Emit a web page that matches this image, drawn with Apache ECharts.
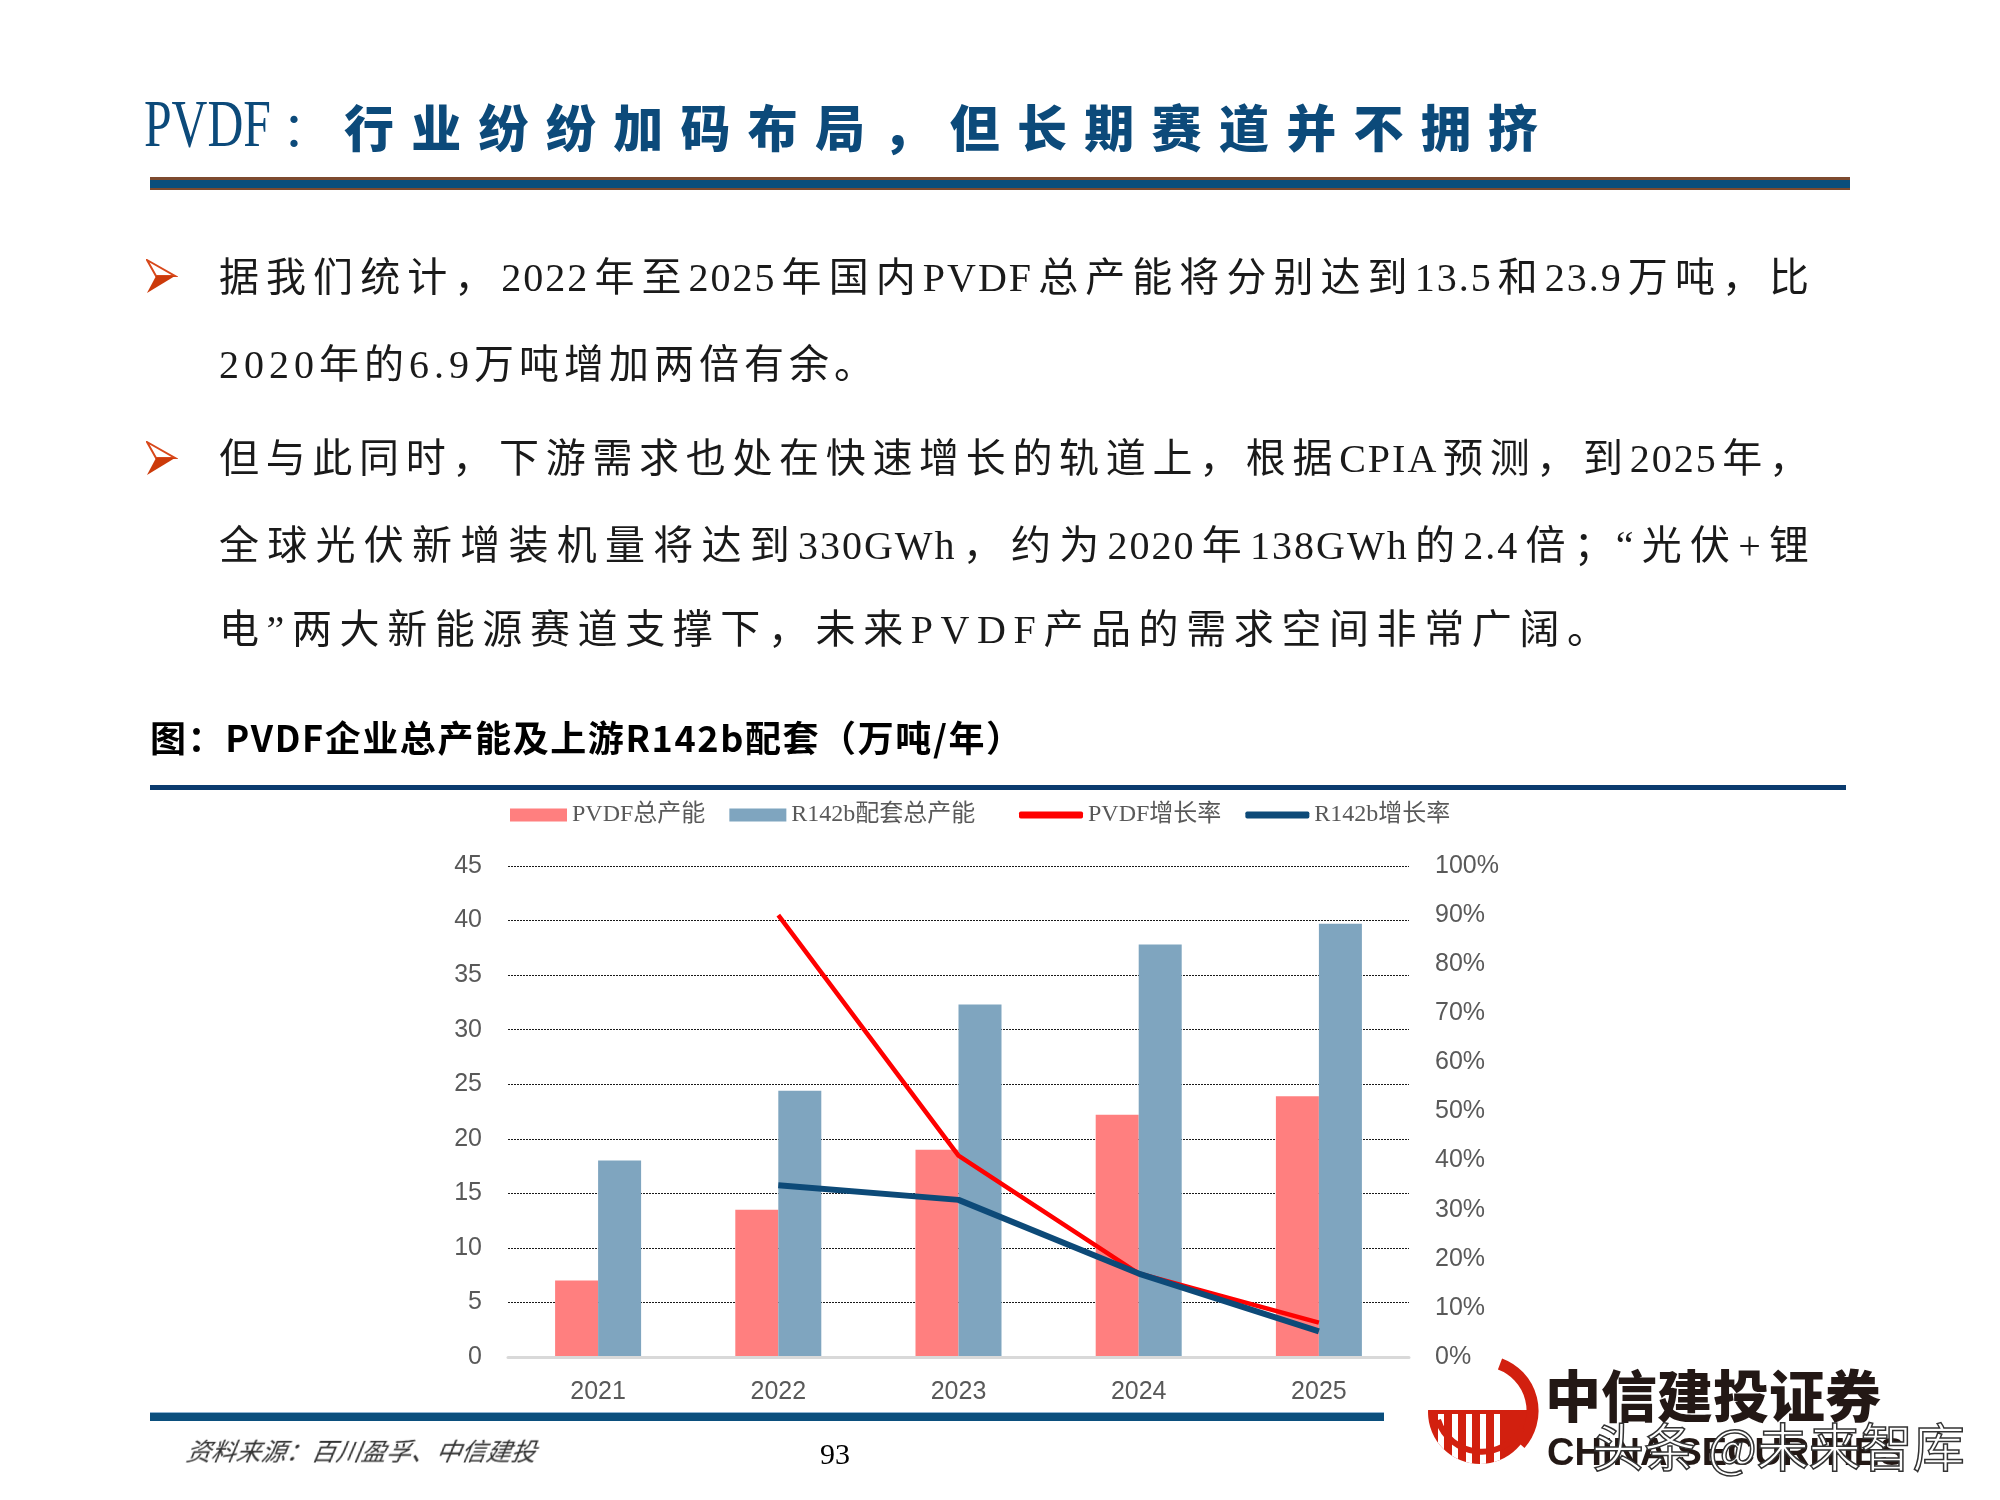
<!DOCTYPE html>
<html>
<head>
<meta charset="utf-8">
<script src="https://cdn.jsdelivr.net/npm/echarts@6/dist/echarts.min.js"></script>
<style>
  html, body { margin:0; padding:0; background:#fff; }
  body { width:2000px; height:1500px; position:relative; overflow:hidden; }
  #chart { position:absolute; left:0; top:0; width:2000px; height:1500px; }
  .abs { position:absolute; white-space:nowrap; }
  .body-line { position:absolute; left:219px; font-family:"Liberation Serif","Noto Sans CJK SC",serif; font-size:40px; line-height:48px; color:#1a1a1a; }
  .full { width:1592px; text-align:justify; text-align-last:justify; letter-spacing:2px; }
  .rag { letter-spacing:5px; }
</style>
</head>
<body>
<div id="chart"></div>

<!-- page title -->
<div class="abs" style="left:144px;top:83px;font-family:'Liberation Serif',serif;font-size:68px;line-height:80px;color:#0c4a7a;transform:scaleX(0.73);transform-origin:left center;">PVDF</div>
<div class="abs" style="left:282px;top:97px;font-family:'Noto Sans CJK SC';font-size:48px;line-height:56px;color:#0c4a7a;">：</div>
<div class="abs" style="left:344px;top:97px;font-family:'Noto Sans CJK SC';font-weight:900;font-size:50px;line-height:56px;letter-spacing:17.3px;color:#0c4a7a;">行业纷纷加码布局，但长期赛道并不拥挤</div>
<div class="abs" style="left:150px;top:177px;width:1700px;height:13px;background:#7d4a2e;"></div>
<div class="abs" style="left:150px;top:180px;width:1700px;height:8px;background:#0a4e7b;"></div>

<!-- bullets -->
<svg class="abs" style="left:146px;top:259px;" width="32" height="36" viewBox="0 0 32 36">
  <polygon points="1,1 29,17 10,17" fill="#fff" stroke="#d8481b" stroke-width="2"/>
  <polygon points="10,17 29,17 1,34" fill="#cc3a0a"/>
</svg>
<svg class="abs" style="left:146px;top:441px;" width="32" height="36" viewBox="0 0 32 36">
  <polygon points="1,1 29,17 10,17" fill="#fff" stroke="#d8481b" stroke-width="2"/>
  <polygon points="10,17 29,17 1,34" fill="#cc3a0a"/>
</svg>
<div class="body-line full" style="top:254px;">据我们统计，2022年至2025年国内PVDF总产能将分别达到13.5和23.9万吨，比</div>
<div class="body-line rag" style="top:341px;">2020年的6.9万吨增加两倍有余。</div>
<div class="body-line full" style="top:435px;">但与此同时，下游需求也处在快速增长的轨道上，根据CPIA预测，到2025年，</div>
<div class="body-line full" style="top:522px;">全球光伏新增装机量将达到330GWh，约为2020年138GWh的2.4倍；“光伏+锂</div>
<div class="body-line rag" style="top:606px;letter-spacing:7.6px;">电”两大新能源赛道支撑下，未来PVDF产品的需求空间非常广阔。</div>

<!-- chart title -->
<div class="abs" style="left:150px;top:714px;font-family:'Noto Sans CJK SC';font-weight:700;font-size:36px;line-height:44px;letter-spacing:1.6px;color:#000;">图：PVDF企业总产能及上游R142b配套（万吨/年）</div>
<div class="abs" style="left:150px;top:785px;width:1696px;height:5px;background:#0b3b6e;"></div>

<!-- footer -->
<div class="abs" style="left:150px;top:1412px;width:1234px;height:1px;background:#8fb4d2;"></div>
<div class="abs" style="left:150px;top:1413px;width:1234px;height:8px;background:#0b4f7d;"></div>
<div class="abs" style="left:187px;top:1434px;font-family:'Noto Sans CJK SC';font-style:italic;font-size:25px;line-height:32px;color:#333;transform:skewX(-10deg);">资料来源：百川盈孚、中信建投</div>
<div class="abs" style="left:820px;top:1436px;font-family:'Liberation Serif',serif;font-size:30px;line-height:36px;color:#000;">93</div>

<!-- logo -->
<svg class="abs" style="left:1424px;top:1358px;" width="116" height="112" viewBox="0 0 116 112">
  <defs><clipPath id="cc"><circle cx="56" cy="54" r="52"/></clipPath></defs>
  <g clip-path="url(#cc)">
    <rect x="0" y="52" width="116" height="60" fill="#d2200f"/>
    <rect x="14" y="56" width="6" height="44" fill="#fff"/>
    <rect x="28" y="56" width="6" height="50" fill="#fff"/>
    <rect x="42" y="56" width="6" height="52" fill="#fff"/>
    <rect x="56" y="56" width="6" height="52" fill="#fff"/>
    <rect x="70" y="56" width="6" height="50" fill="#fff"/>
  </g>
  <path d="M 76 6 A 50 50 0 0 1 96 86" stroke="#d2200f" stroke-width="12" fill="none"/>
  <path d="M 14 62 A 46 46 0 0 0 98 70" stroke="#d2200f" stroke-width="6" fill="none"/>
</svg>
<div class="abs" style="left:1545px;top:1360px;font-family:'Noto Sans CJK SC';font-weight:900;font-size:56px;line-height:66px;color:#231815;">中信建投证券</div>
<div class="abs" style="left:1547px;top:1430px;font-family:'Liberation Sans',sans-serif;font-weight:700;font-size:38px;line-height:44px;color:#231815;">CHINA SECURITIES</div>
<div class="abs" style="left:1592px;top:1414px;font-family:'Noto Sans CJK SC';font-weight:400;font-size:52px;line-height:62px;color:#fff;-webkit-text-stroke:1.5px #333;">头条 @未来智库</div>

<script>
const years = ['2021', '2022', '2023', '2024', '2025'];
const pvdfCapacity = [7.0, 13.5, 19.0, 22.2, 23.9];
const r142bCapacity = [18.0, 24.4, 32.3, 37.8, 39.7];
const pvdfGrowth = [null, 90, 41, 17, 7];
const r142bGrowth = [null, 35, 32, 17, 5.2];
const leftAxisRange = [0, 45, 5];     // min, max, step
const rightAxisRange = [0, 100, 10];  // min, max, step (%)
const seriesNames = ['PVDF总产能', 'R142b配套总产能', 'PVDF增长率', 'R142b增长率'];

const chart = echarts.init(document.getElementById('chart'), null, { renderer: 'canvas' });
const labelFont = { color: '#595959', fontSize: 25, fontFamily: 'Liberation Sans, Arial, sans-serif' };
const legendText = { color: '#595959', fontSize: 24, fontFamily: 'Liberation Serif, Noto Sans CJK SC, serif' };

chart.setOption({
  backgroundColor: 'transparent',
  animation: false,
  grid: { left: 508, right: 591, top: 866, bottom: 143 },
  legend: [
    { data: [seriesNames[0], seriesNames[1]], left: 510, top: 803, padding: 0,
      itemWidth: 57, itemHeight: 13, itemGap: 24, icon: 'rect', textStyle: legendText },
    { data: [seriesNames[2], seriesNames[3]], left: 1019, top: 803, padding: 0,
      itemWidth: 64, itemHeight: 7, itemGap: 24, icon: 'roundRect', textStyle: legendText }
  ],
  xAxis: {
    type: 'category', data: years, z: 3,
    axisLine: { show: true, lineStyle: { color: '#d9d9d9', width: 3 } },
    axisTick: { show: false },
    axisLabel: Object.assign({ margin: 23 }, labelFont)
  },
  yAxis: [
    { type: 'value', min: leftAxisRange[0], max: leftAxisRange[1], interval: leftAxisRange[2],
      axisLine: { show: false }, axisTick: { show: false },
      axisLabel: Object.assign({ margin: 26 }, labelFont),
      splitLine: { show: true, lineStyle: { color: '#1a1a1a', width: 1, type: [2, 1] } } },
    { type: 'value', position: 'right', min: rightAxisRange[0], max: rightAxisRange[1], interval: rightAxisRange[2],
      axisLine: { show: false }, axisTick: { show: false },
      axisLabel: Object.assign({ margin: 26, formatter: '{value}%' }, labelFont),
      splitLine: { show: false } }
  ],
  series: [
    { name: seriesNames[0], type: 'bar', data: pvdfCapacity, barWidth: 43, barGap: '0%',
      itemStyle: { color: '#ff7f7f' } },
    { name: seriesNames[1], type: 'bar', data: r142bCapacity, barWidth: 43, barGap: '0%',
      itemStyle: { color: '#7fa5bf' } },
    { name: seriesNames[2], type: 'line', yAxisIndex: 1, data: pvdfGrowth, symbol: 'none',
      itemStyle: { color: '#ff0000' }, lineStyle: { color: '#ff0000', width: 4.5 } },
    { name: seriesNames[3], type: 'line', yAxisIndex: 1, data: r142bGrowth, symbol: 'none',
      itemStyle: { color: '#0d4a78' }, lineStyle: { color: '#0d4a78', width: 6 } }
  ]
});
</script>
</body>
</html>
